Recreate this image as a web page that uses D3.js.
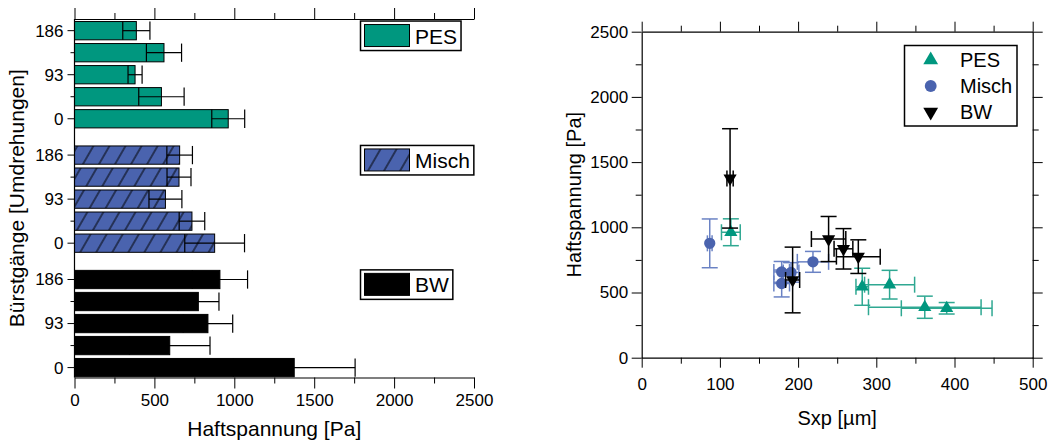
<!DOCTYPE html>
<html>
<head>
<meta charset="utf-8">
<script src="https://cdn.jsdelivr.net/npm/d3@7"></script>
<style>
  html, body { margin: 0; padding: 0; background: #fff; }
  svg { display: block; }
  svg text { font-family: "Liberation Sans", Arial, sans-serif; fill: #000; }
</style>
</head>
<body>
<svg id="chart" width="1051" height="443"></svg>
<script>
// ---------------- data ----------------
const rotations = [0, 47, 93, 140, 186];          // Bürstgänge [Umdrehungen]
const rotTickLabels = ["0", "", "93", "", "186"];
const seriesNames = ["PES", "Misch", "BW"];

// Haftspannung [Pa] (mean and error) per rotation
const pesHaft     = [962, 544, 379, 560, 387];
const pesHaftErr  = [103, 142, 44, 110, 85];
const mischHaft    = [877, 735, 569, 654, 658];
const mischHaftErr = [187, 80, 103, 75, 80];
const bwHaft      = [1375, 596, 835, 775, 910];
const bwHaftErr   = [381, 252, 155, 129, 173];

// Sxp [µm] (mean and error) per rotation
const pesSxp      = [114, 282, 390, 317, 362];
const pesSxpErr   = [12, 8, 58, 32, 72];
const mischSxp    = [87, 219, 179, 191, 179];
const mischSxpErr = [3, 20, 10, 10, 10];
const bwSxp       = [113, 193, 258, 277, 239];
const bwSxpErr    = [4, 9, 12, 28, 22];

const haftTicks = [0, 500, 1000, 1500, 2000, 2500];
const sxpTicks = [0, 100, 200, 300, 400, 500];

// ---------------- styling ----------------
const colors = { PES: "#00977F", Misch: "#4A63AE", BW: "#000000" };
const errColors = { PES: "#2FA892", Misch: "#6A82C4", BW: "#000000" };
const symbols = { PES: d3.symbolTriangle, Misch: d3.symbolCircle, BW: d3.symbolTriangle };
const fmt = d3.format("d");

const series = seriesNames.map((name, g) => ({
  name,
  haft: [pesHaft, mischHaft, bwHaft][g],
  haftErr: [pesHaftErr, mischHaftErr, bwHaftErr][g],
  sxp: [pesSxp, mischSxp, bwSxp][g],
  sxpErr: [pesSxpErr, mischSxpErr, bwSxpErr][g]
}));

const svg = d3.select("#chart");
const defs = svg.append("defs");
defs.append("pattern")
  .attr("id", "hatch")
  .attr("patternUnits", "userSpaceOnUse")
  .attr("width", 13.9).attr("height", 20)
  .attr("patternTransform", "rotate(30)")
  .call(p => {
    p.append("rect").attr("width", 13.9).attr("height", 20).attr("fill", colors.Misch);
    p.append("line").attr("x1", 1).attr("x2", 1).attr("y1", 0).attr("y2", 20)
      .attr("stroke", "#000").attr("stroke-width", 1);
  });
const barFill = { PES: colors.PES, Misch: "url(#hatch)", BW: colors.BW };

function styleAxis(a, size) {
  a.attr("font-family", "Liberation Sans, Arial, sans-serif");
  a.selectAll("text").attr("font-size", size).attr("fill", "#000");
  a.selectAll("line").attr("stroke", "#000");
}

// ================= LEFT: horizontal bar chart =================
const L = { left: 74.5, right: 474, top: 19, bottom: 377.5 };
const groupStep = 5.65;
const nRot = rotations.length;
const slot = (g, i) => g * groupStep + (nRot - 1 - i);   // top row = highest rotation
const xL = d3.scaleLinear().domain([0, 2500]).range([L.left, L.right]);
const yL = d3.scaleLinear().domain([-0.53, 2 * groupStep + nRot - 1 + 0.45]).range([L.top, L.bottom]);
const barH = (yL(1) - yL(0)) * 0.83;

const left = svg.append("g");

// bars
series.forEach((s, g) => {
  const gg = left.append("g");
  rotations.forEach((r, i) => {
    const yc = yL(slot(g, i));
    gg.append("rect")
      .attr("x", xL(0)).attr("y", yc - barH / 2)
      .attr("width", xL(s.haft[i]) - xL(0)).attr("height", barH)
      .attr("fill", barFill[s.name]).attr("stroke", "#000").attr("stroke-width", 1);
    const lo = xL(s.haft[i] - s.haftErr[i]), hi = xL(s.haft[i] + s.haftErr[i]);
    gg.append("line").attr("x1", lo).attr("x2", hi).attr("y1", yc).attr("y2", yc)
      .attr("stroke", "#000").attr("stroke-width", 1.2);
    [lo, hi].forEach(xx => gg.append("line")
      .attr("x1", xx).attr("x2", xx).attr("y1", yc - barH / 2).attr("y2", yc + barH / 2)
      .attr("stroke", "#000").attr("stroke-width", 1.2));
  });
});

const minorHaft = d3.range(250, 2500, 500);
// top axis (ticks outward, no labels)
left.append("g").attr("transform", `translate(0,${L.top})`)
  .call(d3.axisTop(xL).tickValues(minorHaft).tickSize(6).tickFormat(""))
  .call(a => a.select(".domain").remove());
left.append("g").attr("transform", `translate(0,${L.top})`)
  .call(d3.axisTop(xL).tickValues(haftTicks).tickSize(11).tickSizeOuter(0).tickFormat(""));

// bottom axis
left.append("g").attr("transform", `translate(0,${L.bottom})`)
  .call(d3.axisBottom(xL).tickValues(minorHaft).tickSize(6).tickFormat(""))
  .call(a => a.select(".domain").remove());
left.append("g").attr("transform", `translate(0,${L.bottom})`)
  .call(d3.axisBottom(xL).tickValues(haftTicks).tickSize(11).tickSizeOuter(0).tickPadding(5).tickFormat(fmt))
  .call(a => styleAxis(a, 17));

// left axis
const yTickVals = [], yTickText = [], yTickMajor = [];
series.forEach((s, g) => rotations.forEach((r, i) => {
  yTickVals.push(slot(g, i)); yTickText.push(rotTickLabels[i]); yTickMajor.push(rotTickLabels[i] !== "");
}));
const yAx = left.append("g").attr("transform", `translate(${L.left},0)`);
yAx.append("line").attr("x1", 0).attr("x2", 0).attr("y1", L.top).attr("y2", L.bottom)
  .attr("stroke", "#000").attr("stroke-width", 1.2);
yTickVals.forEach((v, k) => {
  const len = yTickMajor[k] ? 7 : 4;
  yAx.append("line").attr("x1", -len).attr("x2", 0).attr("y1", yL(v)).attr("y2", yL(v))
    .attr("stroke", "#000").attr("stroke-width", 1);
  if (yTickText[k]) yAx.append("text").attr("x", -11).attr("y", yL(v)).attr("dy", "0.35em")
    .attr("text-anchor", "end").attr("font-size", 17).text(yTickText[k]);
});
left.selectAll(".domain").attr("stroke-width", 1.2);

// axis titles
left.append("text").attr("x", (L.left + L.right) / 2).attr("y", 436)
  .attr("text-anchor", "middle").attr("font-size", 21).text("Haftspannung [Pa]");
left.append("text").attr("transform", `translate(24,${(L.top + L.bottom) / 2}) rotate(-90)`)
  .attr("text-anchor", "middle").attr("font-size", 21).text("Bürstgänge [Umdrehungen]");

// legends (one box per group)
series.forEach((s, g) => {
  const yTop = yL(slot(g, nRot - 1)) - barH / 2 - 0.5;
  const lg = left.append("g");
  const box = lg.append("rect").attr("x", 360.5).attr("y", yTop).attr("height", 29.5)
    .attr("fill", "#fff").attr("stroke", "#000").attr("stroke-width", 1.5);
  lg.append("rect").attr("x", 364.5).attr("y", yTop + 3.5).attr("width", 45).attr("height", 22)
    .attr("fill", barFill[s.name]).attr("stroke", "#000").attr("stroke-width", 1);
  const t = lg.append("text").attr("x", 415).attr("y", yTop + 22.5).attr("font-size", 21).text(s.name);
  box.attr("width", 415 + t.node().getComputedTextLength() + 4 - 360.5);
});

// ================= RIGHT: scatter =================
const R = { left: 641.7, right: 1032.7, top: 31.7, bottom: 357.7 };
const xR = d3.scaleLinear().domain([0, 500]).range([R.left, R.right]);
const yR = d3.scaleLinear().domain([0, 2500]).range([R.bottom, R.top]);
const right = svg.append("g");

const minorX = d3.range(50, 500, 100), minorY = d3.range(250, 2500, 500);
// bottom
right.append("g").attr("transform", `translate(0,${R.bottom})`)
  .call(d3.axisBottom(xR).tickValues(minorX).tickSize(6).tickFormat("")).call(a => a.select(".domain").remove());
right.append("g").attr("transform", `translate(0,${R.bottom})`)
  .call(d3.axisBottom(xR).tickValues(sxpTicks).tickSize(10).tickSizeOuter(0).tickPadding(10).tickFormat(fmt))
  .call(a => styleAxis(a, 17));
// top
right.append("g").attr("transform", `translate(0,${R.top})`)
  .call(d3.axisTop(xR).tickValues(minorX).tickSize(6).tickFormat("")).call(a => a.select(".domain").remove());
right.append("g").attr("transform", `translate(0,${R.top})`)
  .call(d3.axisTop(xR).tickValues(sxpTicks).tickSize(10).tickSizeOuter(0).tickFormat(""));
// left
right.append("g").attr("transform", `translate(${R.left},0)`)
  .call(d3.axisLeft(yR).tickValues(minorY).tickSize(6).tickFormat("")).call(a => a.select(".domain").remove());
right.append("g").attr("transform", `translate(${R.left},0)`)
  .call(d3.axisLeft(yR).tickValues(haftTicks).tickSize(10).tickSizeOuter(0).tickPadding(3.5).tickFormat(fmt))
  .call(a => styleAxis(a, 17));
// right
right.append("g").attr("transform", `translate(${R.right},0)`)
  .call(d3.axisRight(yR).tickValues(minorY).tickSize(6).tickFormat("")).call(a => a.select(".domain").remove());
right.append("g").attr("transform", `translate(${R.right},0)`)
  .call(d3.axisRight(yR).tickValues(haftTicks).tickSize(10).tickSizeOuter(0).tickFormat(""));
right.selectAll(".domain").attr("stroke-width", 1.2);

right.append("text").attr("x", (R.left + R.right) / 2).attr("y", 425)
  .attr("text-anchor", "middle").attr("font-size", 20).text("Sxp [µm]");
right.append("text").attr("transform", `translate(581,${(R.top + R.bottom) / 2}) rotate(-90)`)
  .attr("text-anchor", "middle").attr("font-size", 20).text("Haftspannung [Pa]");

// error bars + markers
const cap = 8;
series.forEach(s => {
  const gg = right.append("g");
  const ec = errColors[s.name];
  rotations.forEach((r, i) => {
    const cx = xR(s.sxp[i]), cy = yR(s.haft[i]);
    const y0 = yR(s.haft[i] - s.haftErr[i]), y1 = yR(s.haft[i] + s.haftErr[i]);
    const x0 = xR(s.sxp[i] - s.sxpErr[i]), x1 = xR(s.sxp[i] + s.sxpErr[i]);
    const segs = [
      [cx, y0, cx, y1], [cx - cap, y0, cx + cap, y0], [cx - cap, y1, cx + cap, y1],
      [x0, cy, x1, cy], [x0, cy - cap, x0, cy + cap], [x1, cy - cap, x1, cy + cap]
    ];
    segs.forEach(d => gg.append("line").attr("x1", d[0]).attr("y1", d[1]).attr("x2", d[2]).attr("y2", d[3])
      .attr("stroke", ec).attr("stroke-width", 1.5));
  });
  rotations.forEach((r, i) => {
    const sym = d3.symbol().type(symbols[s.name]).size(s.name === "Misch" ? 100 : 75);
    gg.append("path").attr("d", sym())
      .attr("transform", `translate(${xR(s.sxp[i])},${yR(s.haft[i])})${s.name === "BW" ? " rotate(180)" : ""}`)
      .attr("fill", colors[s.name]);
  });
});

// legend
const lgR = right.append("g");
lgR.append("rect").attr("x", 904.5).attr("y", 45.5).attr("width", 112.5).attr("height", 80.5)
  .attr("fill", "#fff").attr("stroke", "#000").attr("stroke-width", 1.5);
seriesNames.forEach((name, k) => {
  const yy = 60 + k * 26;
  const sym = d3.symbol().type(symbols[name]).size(name === "Misch" ? 110 : 95);
  lgR.append("path").attr("d", sym())
    .attr("transform", `translate(930.7,${yy})${name === "BW" ? " rotate(180)" : ""}`)
    .attr("fill", colors[name]);
  lgR.append("text").attr("x", 960).attr("y", yy + 7).attr("font-size", 20).text(name);
});
</script>
</body>
</html>
